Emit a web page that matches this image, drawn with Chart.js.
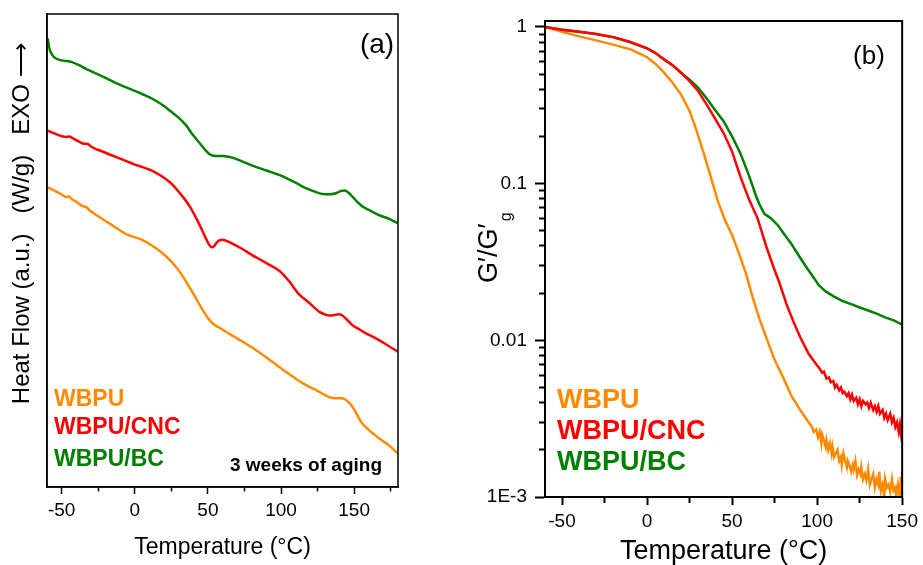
<!DOCTYPE html>
<html><head><meta charset="utf-8">
<script src="https://cdn.jsdelivr.net/npm/chart.js@4"></script>
<style>
html,body{margin:0;padding:0;background:#fff;}
#wrap{position:relative;width:923px;height:565px;overflow:hidden;background:#fff;}
#chartA{position:absolute;left:0;top:0;}
#chartB{position:absolute;left:430px;top:0;}
</style></head><body>
<div id="wrap">
<canvas id="chartA" width="430" height="565"></canvas>
<canvas id="chartB" width="493" height="565"></canvas>
</div>
<script>
// ---------- names & colours ----------
const seriesNames = ['WBPU', 'WBPU/CNC', 'WBPU/BC'];
const seriesColors = ['#FF8A00', '#FF0000', '#008000'];

// ---------- panel (a): DSC heat flow, arbitrary units ----------
const dscTempWBPU = [-59.5,-55,-50,-47,-45,-43,-40,-36,-33,-31,-25,-15,-5,5,12,19,25,30,34,38,42,45,48,51,54,58,65,75,85,95,105,115,125,133,137,141,144,147,150,155,160,167,174,180];
const dscWBPU     = [7.60,7.52,7.42,7.36,7.37,7.30,7.24,7.13,7.10,7.02,6.87,6.63,6.40,6.27,6.12,5.93,5.72,5.50,5.28,5.03,4.78,4.58,4.40,4.24,4.13,4.04,3.88,3.66,3.42,3.15,2.88,2.63,2.44,2.28,2.25,2.25,2.22,2.12,1.97,1.64,1.45,1.24,1.05,0.85];

const dscTempCNC = [-59.5,-55,-50,-47,-45,-42,-38,-35,-32,-30,-20,-10,0,5,12,19,25,30,35,39,43,46,49,51,52.5,54,56,58,60,63,67,73,80,90,99,106,112,119,126,130,133,136,139.5,142,145,149,153,158,163,170,180];
const dscCNC     = [9.04,8.97,8.90,8.88,8.89,8.84,8.76,8.71,8.70,8.64,8.48,8.33,8.18,8.12,8.02,7.87,7.70,7.49,7.26,7.03,6.75,6.52,6.28,6.14,6.08,6.10,6.20,6.26,6.27,6.24,6.17,6.05,5.89,5.68,5.48,5.20,4.90,4.68,4.45,4.38,4.35,4.36,4.38,4.35,4.25,4.10,4.01,3.90,3.81,3.66,3.43];

const dscTempBC = [-59.5,-58.5,-57,-55,-51,-47,-43,-38,-34,-30,-20,-10,0,5,12,19,25,30,35,39,44,48,51,55,60,65,71,80,90,100,110,117,124,130,134,138,141,143.5,146,149,152,156,160,167,174,180];
const dscBC     = [11.38,11.15,11.0,10.9,10.83,10.81,10.78,10.7,10.62,10.55,10.38,10.2,10.05,9.97,9.85,9.69,9.52,9.37,9.18,8.97,8.74,8.56,8.45,8.40,8.40,8.37,8.30,8.16,8.03,7.90,7.72,7.58,7.48,7.43,7.43,7.46,7.51,7.52,7.47,7.36,7.24,7.11,7.03,6.90,6.80,6.69];

// ---------- panel (b): G'/G'g ----------
const dmaTempWBPU = [-60,-50,-40,-30,-20,-10,-5,0,5,10,15,20,25,29,33,37,42,46,50,54,58,62,66,70,75,80,85,90,95,97,98,99.5,100.5,101.5,102.5,103,104,105,105.5,106.5,107.5,108.5,109,110,111,112,113,114,114.5,115.5,116.5,117.5,118,119,120,121,121.5,122.5,123.5,124.5,125.5,126,127,128,129,130,131,132,133,134,135,136,136.5,137.5,138.5,139.5,140,141,142,143,144,145,146,146.5,147.5,148.5,149.3,150];
const dmaWBPU     = [1.0,0.93,0.87,0.82,0.77,0.72,0.68,0.64,0.58,0.51,0.44,0.37,0.29,0.22,0.16,0.115,0.075,0.058,0.047,0.036,0.027,0.019,0.0138,0.0105,0.0075,0.0058,0.0044,0.0036,0.0030,0.0028,0.0026,0.0027,0.0024,0.0026,0.0022,0.0025,0.0023,0.0021,0.0023,0.0020,0.0022,0.0019,0.0021,0.0018,0.0019,0.0020,0.0017,0.0018,0.0016,0.0019,0.0017,0.00155,0.0017,0.0016,0.00145,0.0016,0.0015,0.0017,0.00138,0.0015,0.0014,0.00155,0.0013,0.0014,0.00128,0.0015,0.0012,0.0013,0.0014,0.00115,0.0013,0.0012,0.00145,0.0011,0.0012,0.00098,0.0013,0.00115,0.0012,0.00108,0.0013,0.0011,0.00115,0.00102,0.0012,0.00099,0.00135,0.00115];

const dmaTempCNC = [-60,-50,-40,-30,-20,-10,0,5,10,15,20,25,30,35,40,45,50,55,60,65,70,74,78,82,86,90,95,100,101.5,103,104,105.5,107,108,109.5,110.5,111.5,113,114,115,116,117.5,118.5,119.5,120.5,121.5,123,124,125,126,127,128.5,129.5,130.5,131.5,133,134,135,136,137,138.5,139.5,140.5,141.5,143,144,145,146,147,148,148.7,149.4,150];
const dmaCNC     = [1.0,0.96,0.93,0.90,0.86,0.80,0.73,0.68,0.62,0.57,0.51,0.45,0.39,0.32,0.26,0.21,0.16,0.11,0.079,0.060,0.040,0.030,0.023,0.017,0.0132,0.0105,0.0082,0.0069,0.0066,0.0062,0.0063,0.0057,0.0058,0.0054,0.0055,0.0050,0.0052,0.0048,0.0050,0.0046,0.0047,0.0044,0.0046,0.0042,0.0045,0.0041,0.0043,0.0039,0.0042,0.0038,0.0041,0.0039,0.0040,0.0037,0.0040,0.0036,0.0038,0.0035,0.0038,0.0034,0.0036,0.0032,0.0034,0.0031,0.0034,0.0030,0.0032,0.0028,0.0030,0.0026,0.0029,0.0025,0.0027];

const dmaTempBC = [-60,-50,-40,-30,-20,-10,0,5,10,15,20,25,30,35,40,45,50,55,60,64,66,69,71,73,77,81,85,89,93,97,101,105,110,115,120,125,130,135,140,145,150];
const dmaBC     = [1.0,0.96,0.93,0.90,0.86,0.80,0.73,0.68,0.62,0.57,0.51,0.46,0.41,0.35,0.295,0.25,0.20,0.155,0.112,0.084,0.074,0.064,0.062,0.060,0.054,0.047,0.041,0.035,0.030,0.026,0.0225,0.0205,0.0190,0.0178,0.0170,0.0162,0.0155,0.0148,0.0140,0.0134,0.0126];

// ---------- ticks ----------
const aXMajorTicks = [-50, 0, 50, 100, 150];
const aXMinorTicks = [-25, 25, 75, 125, 175];
const bXMajorTicks = [-50, 0, 50, 100, 150];
const bXMinorTicks = [-25, 25, 75, 125];
const bYMajorTicks = [0.001, 0.01, 0.1, 1];
const bYMajorLabels = ['1E-3', '0.01', '0.1', '1'];
const bYMinorTicks = [0.002,0.003,0.004,0.005,0.006,0.007,0.008,0.009,0.02,0.03,0.04,0.05,0.06,0.07,0.08,0.09,0.2,0.3,0.4,0.5,0.6,0.7,0.8,0.9];

// ---------- helpers ----------
const FAM = '"Liberation Sans", Arial, Helvetica, sans-serif';
const pts = (xs, ys) => xs.map((x, i) => ({x: x, y: ys[i]}));

const framePlugin = {
  id: 'frame',
  afterDatasetsDraw(chart, args, opts) {
    const {ctx, chartArea: a} = chart;
    ctx.save();
    ctx.strokeStyle = '#000';
    ctx.lineWidth = opts.width || 1.5;
    ctx.strokeRect(a.left, a.top, a.right - a.left, a.bottom - a.top);
    ctx.restore();
  }
};
const textPlugin = {
  id: 'texts',
  afterDraw(chart, args, opts) {
    const ctx = chart.ctx;
    (opts.items || []).forEach(it => {
      ctx.save();
      ctx.fillStyle = it.color || '#000';
      if (it.kind === 'ytitle') {
        ctx.translate(it.x, it.y);
        ctx.rotate(-Math.PI / 2);
        ctx.textAlign = 'left';
        ctx.textBaseline = 'alphabetic';
        ctx.font = it.font;
        ctx.fillText(it.text, 0, 0);
        const w = ctx.measureText(it.text).width;
        ctx.font = it.subFont;
        ctx.fillText(it.sub, w + 2, it.subShift);
      } else {
        ctx.font = it.font;
        ctx.textAlign = it.align || 'left';
        ctx.textBaseline = 'middle';
        ctx.fillText(it.text, it.x, it.y);
      }
      ctx.restore();
    });
  }
};

function ds(i, data, order) {
  return {label: seriesNames[i], data: data, borderColor: seriesColors[i], backgroundColor: seriesColors[i],
          borderWidth: 2.5, pointRadius: 0, fill: false, order: order};
}

// ---------- chart (a) ----------
new Chart(document.getElementById('chartA'), {
  type: 'line',
  data: {datasets: [
    Object.assign(ds(0, pts(dscTempWBPU, dscWBPU), 2), {cubicInterpolationMode: 'monotone'}),
    Object.assign(ds(1, pts(dscTempCNC, dscCNC), 1), {cubicInterpolationMode: 'monotone'}),
    Object.assign(ds(2, pts(dscTempBC, dscBC), 0), {cubicInterpolationMode: 'monotone'})
  ]},
  options: {
    responsive: false, animation: false, devicePixelRatio: 1,
    layout: {padding: {top: 14, right: 32, left: 0, bottom: 0}},
    plugins: {
      legend: {display: false}, tooltip: {enabled: false},
      frame: {width: 1.5},
      texts: {items: [
        {text: '(a)', x: 377, y: 45, font: '28px ' + FAM, align: 'center'},
        {text: seriesNames[0], x: 54, y: 400, font: 'bold 23px ' + FAM, color: seriesColors[0]},
        {text: seriesNames[1], x: 54, y: 428, font: 'bold 23px ' + FAM, color: seriesColors[1]},
        {text: seriesNames[2], x: 54, y: 460, font: 'bold 23px ' + FAM, color: seriesColors[2]},
        {text: '3 weeks of aging', x: 382, y: 466, font: 'bold 19px ' + FAM, align: 'right'}
      ]}
    },
    scales: {
      x: {
        type: 'linear', min: -60, max: 180, position: 'bottom',
        afterBuildTicks: s => { s.ticks = aXMajorTicks.concat(aXMinorTicks).sort((p, q) => p - q).map(v => ({value: v})); },
        afterFit: s => { s.height = 78; },
        ticks: {autoSkip: false, maxRotation: 0, minRotation: 0, padding: 5, color: '#000', font: {family: FAM, size: 19},
                callback: v => aXMajorTicks.includes(v) ? String(v) : ''},
        grid: {drawOnChartArea: false, drawTicks: true, tickLength: 7, tickColor: '#000', tickWidth: 1.5,
               tickBorderDash: c => (c.tick && aXMajorTicks.includes(c.tick.value)) ? [] : [4, 100]},
        border: {display: true, color: '#000', width: 1.5},
        title: {display: true, text: 'Temperature (°C)', color: '#000', font: {family: FAM, size: 23, lineHeight: 1}, padding: {top: 0, bottom: 6}}
      },
      y: {
        type: 'linear', min: 0, max: 12, position: 'left',
        afterFit: s => { s.width = 47; },
        ticks: {display: false},
        grid: {display: false},
        border: {display: true, color: '#000', width: 1.5},
        title: {display: true,
                text: '\u00a0\u00a0\u00a0\u00a0\u00a0\u00a0\u00a0\u00a0Heat Flow (a.u.)\u00a0\u00a0 (W/g)\u00a0\u00a0 EXO \u27F6',
                color: '#000', font: {family: FAM, size: 24, lineHeight: 1}, padding: {top: 10, bottom: 0}}
      }
    }
  },
  plugins: [framePlugin, textPlugin]
});

// ---------- chart (b) ----------
new Chart(document.getElementById('chartB'), {
  type: 'line',
  data: {datasets: [
    ds(0, pts(dmaTempWBPU, dmaWBPU), 1),
    ds(1, pts(dmaTempCNC, dmaCNC), 0),
    ds(2, pts(dmaTempBC, dmaBC), 2)
  ]},
  options: {
    responsive: false, animation: false, devicePixelRatio: 1,
    layout: {padding: {top: 21, right: 18, left: 0, bottom: 0}},
    elements: {line: {tension: 0}},
    plugins: {
      legend: {display: false}, tooltip: {enabled: false},
      frame: {width: 2},
      texts: {items: [
        {text: '(b)', x: 439, y: 57, font: '26px ' + FAM, align: 'center'},
        {text: seriesNames[0], x: 127, y: 401, font: 'bold 27px ' + FAM, color: seriesColors[0]},
        {text: seriesNames[1], x: 127, y: 432, font: 'bold 27px ' + FAM, color: seriesColors[1]},
        {text: seriesNames[2], x: 127, y: 463, font: 'bold 27px ' + FAM, color: seriesColors[2]},
        {kind: 'ytitle', text: 'G\u2032/G\u2032', sub: 'g', x: 67, y: 283, font: '27px ' + FAM, subFont: '16px ' + FAM, subShift: 14}
      ]}
    },
    scales: {
      x: {
        type: 'linear', min: -60, max: 150, position: 'bottom',
        afterBuildTicks: s => { s.ticks = bXMajorTicks.concat(bXMinorTicks).sort((p, q) => p - q).map(v => ({value: v})); },
        afterFit: s => { s.height = 68; },
        ticks: {autoSkip: false, maxRotation: 0, minRotation: 0, padding: 5, color: '#000', font: {family: FAM, size: 19},
                callback: v => bXMajorTicks.includes(v) ? String(v) : ''},
        grid: {drawOnChartArea: false, drawTicks: true, tickLength: 8, tickColor: '#000', tickWidth: 2,
               tickBorderDash: c => (c.tick && bXMajorTicks.includes(c.tick.value)) ? [] : [5, 100]},
        border: {display: true, color: '#000', width: 2},
        title: {display: true, text: 'Temperature (°C)', color: '#000', font: {family: FAM, size: 27, lineHeight: 1}, padding: {top: 0, bottom: 0}}
      },
      y: {
        type: 'logarithmic', min: 0.001, max: 1.09, position: 'left',
        afterBuildTicks: s => { s.ticks = bYMajorTicks.concat(bYMinorTicks).sort((p, q) => p - q).map(v => ({value: v})); },
        afterFit: s => { s.width = 115; },
        ticks: {autoSkip: false, padding: 8, color: '#000', font: {family: FAM, size: 19},
                callback: v => { const k = bYMajorTicks.indexOf(v); return k >= 0 ? bYMajorLabels[k] : ''; }},
        grid: {drawOnChartArea: false, drawTicks: true, tickLength: 10, tickColor: '#000', tickWidth: 2,
               tickBorderDash: c => (c.tick && bYMajorTicks.includes(c.tick.value)) ? [] : [0, 4, 5, 100]},
        border: {display: true, color: '#000', width: 2},
        title: {display: false}
      }
    }
  },
  plugins: [framePlugin, textPlugin]
});
</script>
</body></html>
